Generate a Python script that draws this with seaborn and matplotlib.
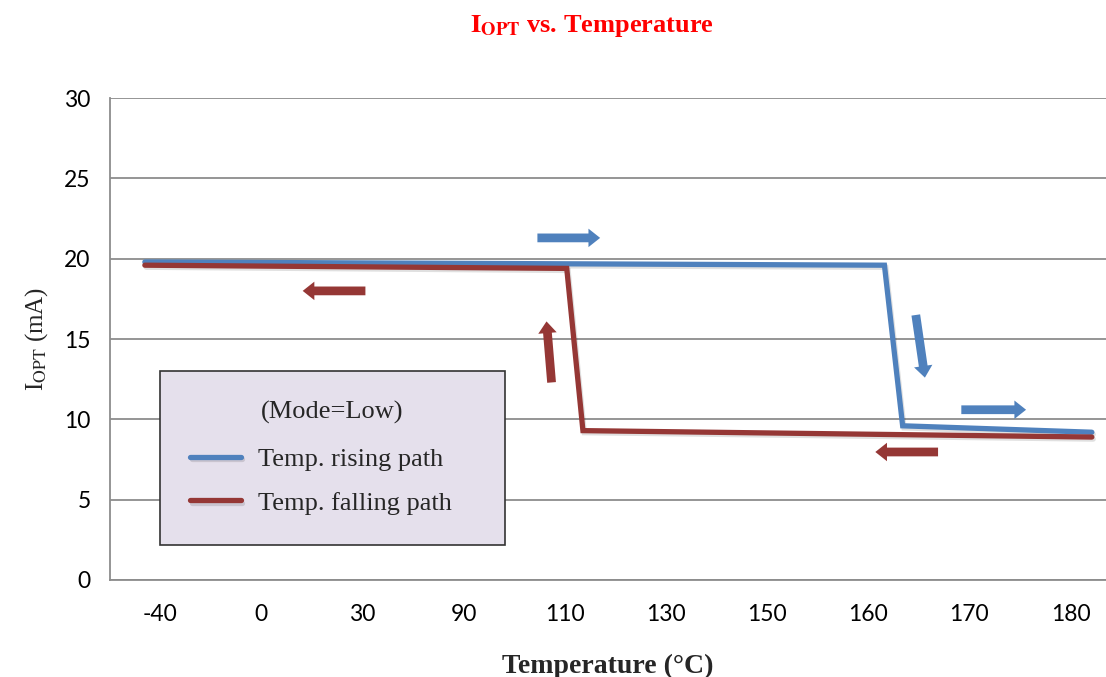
import matplotlib
matplotlib.use("Agg")
import matplotlib.pyplot as plt
import matplotlib.patheffects as pe
from matplotlib.lines import Line2D
import pandas as pd
import seaborn as sns

# x positions are in category units (0 = -40 °C tick, 9 = 180 °C tick)
TEMP_LABELS = ["-40", "0", "30", "90", "110", "130", "150", "160", "170", "180"]

RISE_X = [-0.15, 7.16, 7.34, 9.21]
RISE_Y = [19.8, 19.6, 9.6, 9.2]
FALL_X = [-0.15, 4.02, 4.18, 9.21]
FALL_Y = [19.6, 19.4, 9.3, 8.9]

BLUE = "#4F81BD"
RED = "#953735"

# direction arrows: (x_from, y_from, x_to, y_to, colour)
ARROWS = [
    (3.73, 21.3, 4.35, 21.3, BLUE),
    (2.03, 18.0, 1.41, 18.0, RED),
    (3.87, 12.3, 3.82, 16.1, RED),
    (7.47, 16.5, 7.56, 12.6, BLUE),
    (7.92, 10.6, 8.56, 10.6, BLUE),
    (7.69, 7.97, 7.07, 7.97, RED),
]

sns.set_theme(style="white")
plt.rcParams["mathtext.fontset"] = "stix"

df = pd.concat([
    pd.DataFrame({"x": RISE_X, "y": RISE_Y, "path": "Temp. rising path"}),
    pd.DataFrame({"x": FALL_X, "y": FALL_Y, "path": "Temp. falling path"}),
])

fig = plt.figure(figsize=(11.06, 6.77), dpi=100)
ax = fig.add_axes([0.0995, 0.1433, 0.9005, 0.7117])

shadow = [pe.SimpleLineShadow(offset=(1, -1.5), alpha=0.12, shadow_color="black"), pe.Normal()]
sns.lineplot(data=df, x="x", y="y", hue="path", sort=False, estimator=None,
             palette={"Temp. rising path": BLUE, "Temp. falling path": RED},
             linewidth=3.8, ax=ax, legend=False)
for ln in ax.lines:
    ln.set_path_effects(shadow)
    ln.set_solid_joinstyle("miter")
    ln.set_solid_capstyle("round")

for x0, y0, x1, y1, c in ARROWS:
    ax.annotate("", xy=(x1, y1), xytext=(x0, y0),
                arrowprops=dict(arrowstyle="simple,head_width=0.95,head_length=0.6,tail_width=0.45",
                                mutation_scale=14, color=c, shrinkA=0, shrinkB=0, lw=0))

ax.set_xlim(-0.494, 9.35)
ax.set_ylim(0, 30)
ax.set_xticks(range(len(TEMP_LABELS)))
ax.set_xticklabels(TEMP_LABELS)
ax.set_yticks(range(0, 31, 5))
ax.tick_params(axis="both", length=0, labelsize=16.5, colors="black")
ax.tick_params(axis="x", pad=17)
ax.tick_params(axis="y", pad=14)
for lab in ax.get_xticklabels() + ax.get_yticklabels():
    lab.set_fontfamily(["Lato", "DejaVu Sans"])

ax.yaxis.grid(True, color="#8c8c8c", linewidth=1.3)
ax.xaxis.grid(False)
for side in ["top", "right"]:
    ax.spines[side].set_visible(False)
for side in ["left", "bottom"]:
    ax.spines[side].set_color("#8c8c8c")
    ax.spines[side].set_linewidth(1.3)

ax.set_xlabel("Temperature (°C)", fontsize=20, fontweight="bold",
              family="Liberation Serif", labelpad=21)
ax.set_ylabel(r"I$_{\mathrm{OPT}}$ (mA)", fontsize=18, family="Liberation Serif", labelpad=10)
fig.text(0.535, 0.962, r"$\mathbf{I_{OPT}}$ vs. Temperature", color="red", fontsize=19,
         fontweight="bold", family="Liberation Serif", ha="center", va="center")

handles = [Line2D([], [], color=BLUE, lw=3.8, solid_capstyle="round", path_effects=shadow),
           Line2D([], [], color=RED, lw=3.8, solid_capstyle="round", path_effects=shadow)]
leg = ax.legend(handles, ["Temp. rising path", "Temp. falling path"], title="(Mode=Low)",
                loc="lower left", bbox_to_anchor=(0.0502, 0.0726, 0.3464, 0.363), mode="expand",
                frameon=True, fancybox=False,
                prop={"family": "Liberation Serif", "size": 19},
                title_fontproperties={"family": "Liberation Serif", "size": 19},
                handlelength=1.9, handletextpad=0.65, borderpad=1.15, labelspacing=0.75,
                borderaxespad=0)
leg.get_frame().set_facecolor("#E5E0EC")
leg.get_frame().set_edgecolor("#333333")
leg.get_frame().set_linewidth(1.2)
leg.get_frame().set_alpha(1)
leg._legend_box.sep = 17
leg._legend_box.align = "center"

fig.savefig("out.png", dpi=100)
